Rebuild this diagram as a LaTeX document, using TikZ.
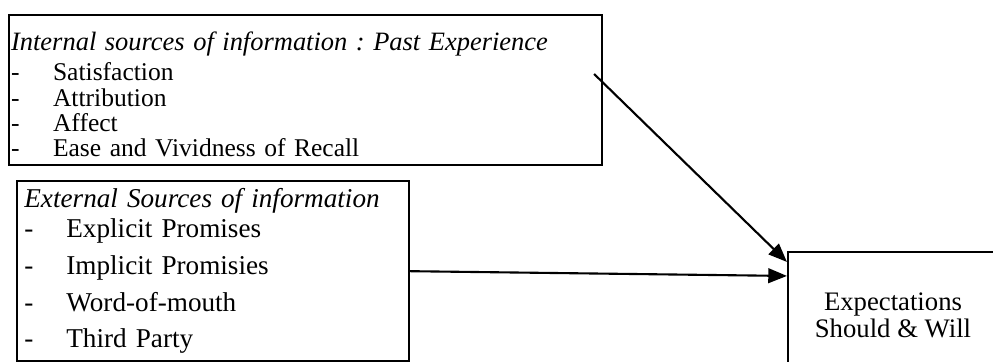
\documentclass[tikz,border=0pt]{standalone}
\usepackage{fontspec}
\setmainfont{Liberation Serif}
\frenchspacing
\usetikzlibrary{positioning, calc, arrows.meta}
\newcommand{\srcItem}[1]{\makebox[0.63cm][l]{-}#1}
\newcommand{\srcHead}[1]{\rule{0pt}{12pt}\textit{\fontsize{11.3}{10.8}\selectfont #1}}
\tikzset{
    srcBoxBase/.style={
        rectangle,
        draw,
        line width=0.9pt,
        anchor=north west,
        align=left
    },
    % Source boxes
    intSrc/.style={srcBoxBase, inner xsep=0.03cm, text width=8.835cm, minimum height=2.235cm,
        font=\fontsize{10.9}{10.8}\selectfont},
    extSrc/.style={srcBoxBase, inner xsep=0.11cm, text width=5.66cm, minimum height=2.655cm,
        font=\fontsize{11.6}{15.6}\selectfont},
    % Outcome
    outcome/.style={rectangle, draw, line width=0.9pt, align=center, minimum width=3.15cm,
        minimum height=1.89cm, font=\fontsize{11.4}{11.5}\selectfont},
    srcArrow/.style={-{Triangle[length=2.8mm, width=2.2mm]}, line width=0.9pt}
}

\begin{document}
\begin{tikzpicture}
\useasboundingbox (0,0) rectangle (14.895,5.43);

\node[intSrc] (internal) at (0.12,5.22) {\srcHead{Internal sources of information : Past Experience}\\[2pt]
  \srcItem{Satisfaction}\\
  \srcItem{Attribution}\\
  \srcItem{Affect}\\
  \srcItem{Ease and Vividness of Recall}};
\node[extSrc] (external) at (0.24,2.73) {\textit{External Sources of information}\\[-2.8pt]
  \srcItem{Explicit Promises}\\
  \srcItem{Implicit Promisies}\\
  \srcItem{Word-of-mouth}\\
  \srcItem{Third Party}};
\node[outcome] (expect) at (13.395,0.705) {Expectations\\Should \& Will};

\coordinate (intOut) at ($(internal.north east)+(-0.135,-0.9)$);
\coordinate (expInA) at ($(expect.north west)+(0,-0.165)$);
\coordinate (expInB) at ($(expect.north west)+(0,-0.375)$);

\draw[srcArrow] (intOut) -- (expInA);
\draw[srcArrow] (external.east) -- (expInB);
\end{tikzpicture}
\end{document}
